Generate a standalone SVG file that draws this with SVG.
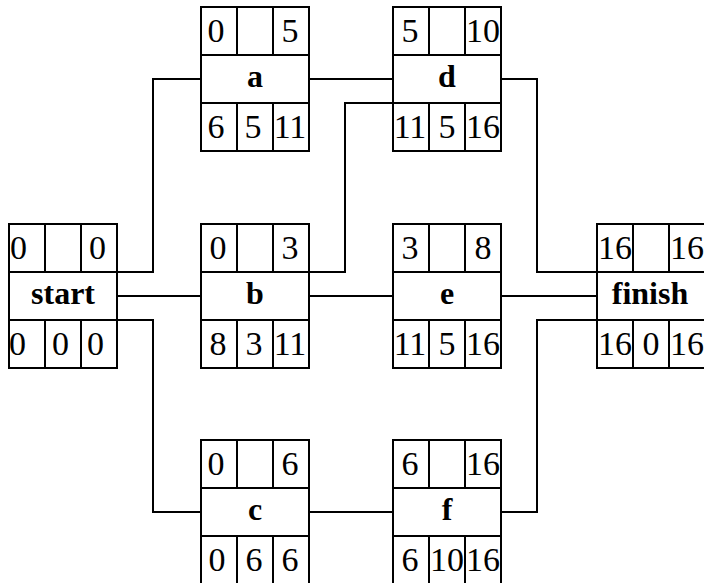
<svg xmlns="http://www.w3.org/2000/svg" width="704" height="583" viewBox="0 0 704 583">
<style>
.box{fill:#fff;stroke:#000;stroke-width:2}
.ln{stroke:#000;stroke-width:2;fill:none}
text{font-family:'Liberation Serif','Times New Roman',serif;fill:#000}
.n{font-size:34px;text-anchor:middle}
.s{text-anchor:start}
.lb{font-size:32px;font-weight:bold;text-anchor:middle}
.e{stroke:#000;stroke-width:2;fill:none}
</style>
<g id="edges">
<path class="e" d="M117,272 H153 V79 H201"/>
<path class="e" d="M117,296 H201"/>
<path class="e" d="M117,320 H153 V512 H201"/>
<path class="e" d="M309,79 H393"/>
<path class="e" d="M309,272 H345 V103 H393"/>
<path class="e" d="M309,296 H393"/>
<path class="e" d="M501,79 H537 V272 H597"/>
<path class="e" d="M501,296 H597"/>
<path class="e" d="M309,512 H393"/>
<path class="e" d="M501,512 H537 V320 H597"/>
</g>
<g id="start">
<rect class="box" x="9" y="224" width="108" height="144"/>
<path class="ln" d="M9,272 H117 M9,320 H117 M45,224 V272 M81,224 V272 M45,320 V368 M81,320 V368"/>
<text class="n s" x="10" y="259">0</text>
<text class="n s" x="89" y="259">0</text>
<text class="lb" x="63" y="304">start</text>
<text class="n s" x="9" y="355">0</text>
<text class="n s" x="52" y="355">0</text>
<text class="n s" x="87" y="355">0</text>
</g>
<g id="a">
<rect class="box" x="201" y="7" width="108" height="144"/>
<path class="ln" d="M201,55 H309 M201,103 H309 M237,7 V55 M273,7 V55 M237,103 V151 M273,103 V151"/>
<text class="n" x="216" y="42">0</text>
<text class="n" x="290" y="42">5</text>
<text class="lb" x="255" y="87">a</text>
<text class="n" x="216" y="138">6</text>
<text class="n" x="253" y="138">5</text>
<text class="n" x="290" y="138">11</text>
</g>
<g id="b">
<rect class="box" x="201" y="224" width="108" height="144"/>
<path class="ln" d="M201,272 H309 M201,320 H309 M237,224 V272 M273,224 V272 M237,320 V368 M273,320 V368"/>
<text class="n" x="218" y="259">0</text>
<text class="n" x="290" y="259">3</text>
<text class="lb" x="255" y="304">b</text>
<text class="n" x="218" y="355">8</text>
<text class="n" x="254" y="355">3</text>
<text class="n" x="290" y="355">11</text>
</g>
<g id="c">
<rect class="box" x="201" y="440" width="108" height="144"/>
<path class="ln" d="M201,488 H309 M201,536 H309 M237,440 V488 M273,440 V488 M237,536 V584 M273,536 V584"/>
<text class="n" x="216" y="475">0</text>
<text class="n" x="290" y="475">6</text>
<text class="lb" x="255" y="520">c</text>
<text class="n" x="217" y="571">0</text>
<text class="n" x="254" y="571">6</text>
<text class="n" x="290" y="571">6</text>
</g>
<g id="d">
<rect class="box" x="393" y="7" width="108" height="144"/>
<path class="ln" d="M393,55 H501 M393,103 H501 M429,7 V55 M465,7 V55 M429,103 V151 M465,103 V151"/>
<text class="n" x="410" y="42">5</text>
<text class="n" x="483" y="42">10</text>
<text class="lb" x="447" y="87">d</text>
<text class="n" x="410" y="138">11</text>
<text class="n" x="447" y="138">5</text>
<text class="n" x="483" y="138">16</text>
</g>
<g id="e">
<rect class="box" x="393" y="224" width="108" height="144"/>
<path class="ln" d="M393,272 H501 M393,320 H501 M429,224 V272 M465,224 V272 M429,320 V368 M465,320 V368"/>
<text class="n" x="410" y="259">3</text>
<text class="n" x="483" y="259">8</text>
<text class="lb" x="447" y="304">e</text>
<text class="n" x="410" y="355">11</text>
<text class="n" x="447" y="355">5</text>
<text class="n" x="483" y="355">16</text>
</g>
<g id="f">
<rect class="box" x="393" y="440" width="108" height="144"/>
<path class="ln" d="M393,488 H501 M393,536 H501 M429,440 V488 M465,440 V488 M429,536 V584 M465,536 V584"/>
<text class="n" x="410" y="475">6</text>
<text class="n" x="483" y="475">16</text>
<text class="lb" x="447" y="520">f</text>
<text class="n" x="410" y="571">6</text>
<text class="n" x="447" y="571">10</text>
<text class="n" x="483" y="571">16</text>
</g>
<g id="finish">
<rect class="box" x="597" y="224" width="108" height="144"/>
<path class="ln" d="M597,272 H705 M597,320 H705 M633,224 V272 M669,224 V272 M633,320 V368 M669,320 V368"/>
<text class="n" x="615" y="259">16</text>
<text class="n" x="687" y="259">16</text>
<text class="lb" x="650" y="304">finish</text>
<text class="n" x="615" y="355">16</text>
<text class="n" x="651" y="355">0</text>
<text class="n" x="687" y="355">16</text>
</g>
</svg>
